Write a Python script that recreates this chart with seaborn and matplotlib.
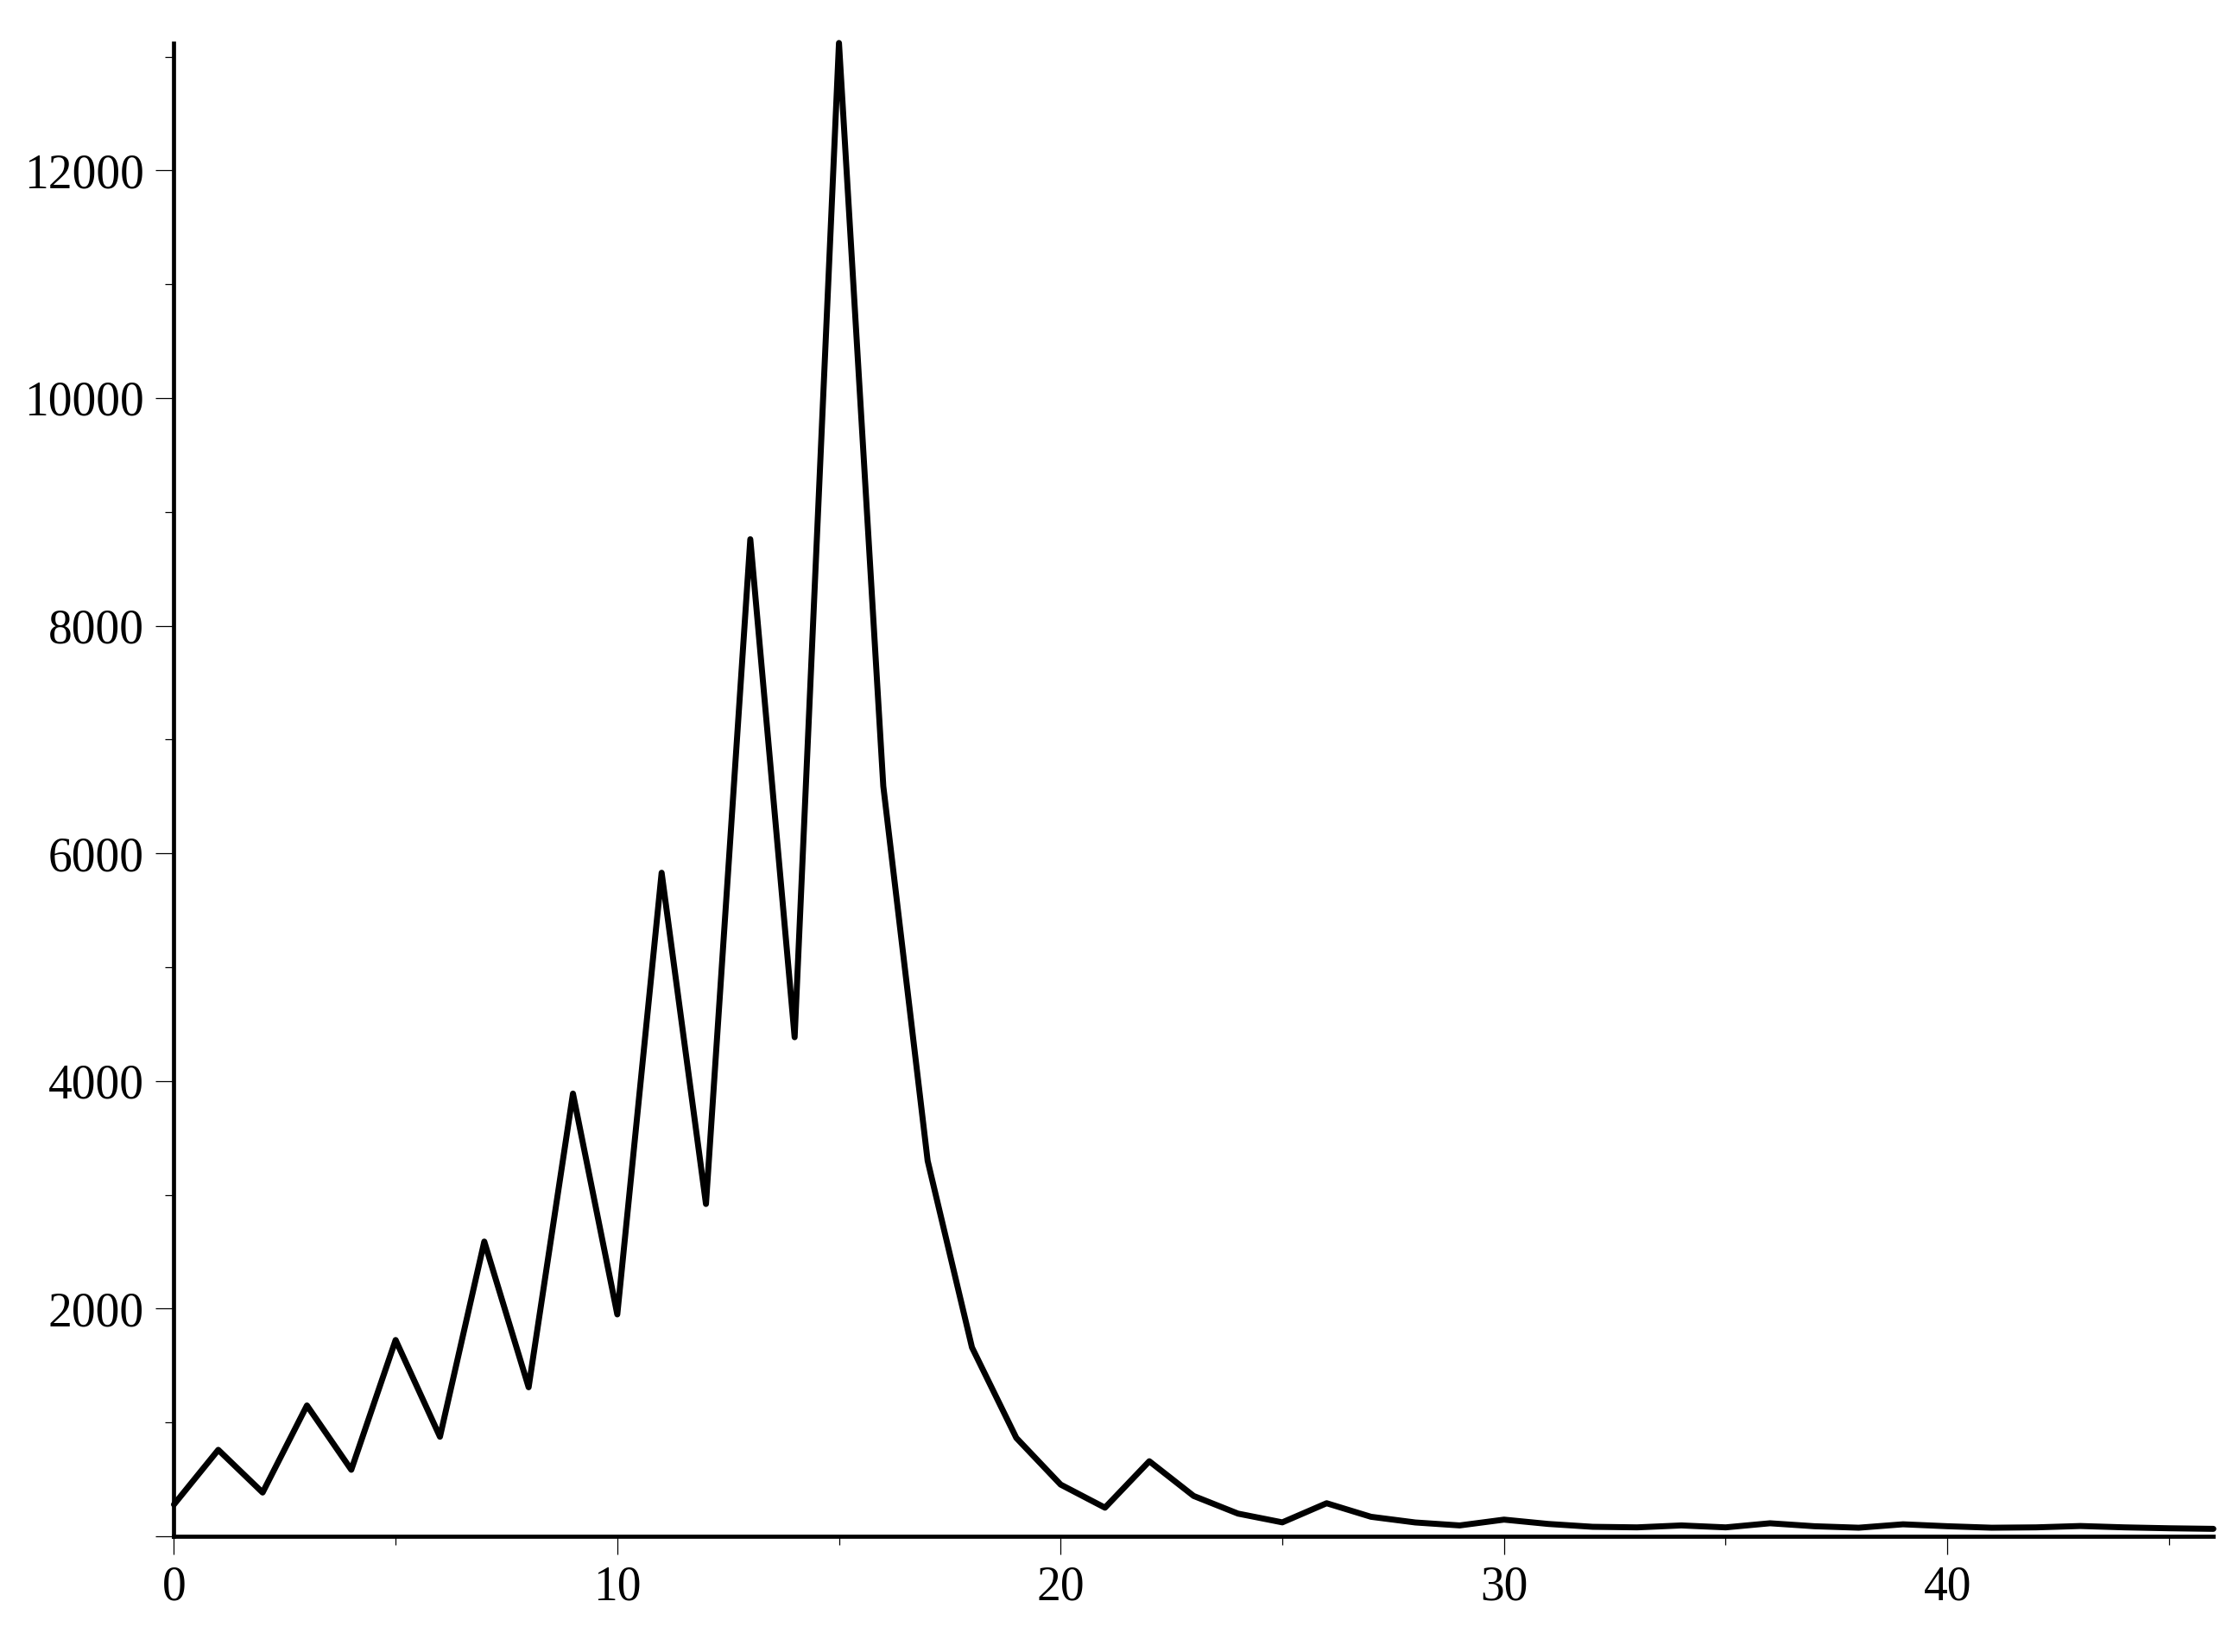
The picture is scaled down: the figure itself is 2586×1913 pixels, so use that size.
import matplotlib
matplotlib.use("Agg")
import matplotlib.pyplot as plt
from matplotlib.ticker import MultipleLocator, FuncFormatter
import seaborn as sns
import pandas as pd

# values, one per integer step 0..46
steps = list(range(47))
counts = [280, 760, 385, 1150, 585, 1725, 875, 2590, 1310, 3890,
          1950, 5830, 2920, 8760, 4385, 13120, 6590, 3300, 1660, 865,
          455, 252, 660, 355, 200, 123, 291, 172, 122, 96,
          147, 109, 84, 79, 96, 79, 115, 89, 76, 106,
          89, 76, 79, 91, 79, 71, 66]

df = pd.DataFrame({"step": steps, "count": counts})

sns.set_style("ticks")
plt.rcParams["font.family"] = ["Liberation Serif", "DejaVu Serif"]

fig = plt.figure(figsize=(25.86, 19.13), dpi=100)
ax = fig.add_axes([0.0779, 0.070, 0.9133, 0.904])

sns.lineplot(data=df, x="step", y="count", ax=ax, color="black",
             linewidth=5, clip_on=False)

ax.set_xlim(0, 46)
ax.set_ylim(0, max(counts))
ax.set_xlabel("")
ax.set_ylabel("")

ax.xaxis.set_major_locator(MultipleLocator(10))
ax.xaxis.set_minor_locator(MultipleLocator(5))
ax.yaxis.set_major_locator(MultipleLocator(2000))
ax.yaxis.set_minor_locator(MultipleLocator(1000))
# no label at the origin on the y axis
ax.yaxis.set_major_formatter(FuncFormatter(lambda v, p: "" if v == 0 else f"{v:.0f}"))

# axes look
for side in ["top", "right"]:
    ax.spines[side].set_visible(False)
for side in ["left", "bottom"]:
    ax.spines[side].set_linewidth(3.4)
    ax.spines[side].set_color("black")

ax.tick_params(which="major", length=15, width=0.9, color="black",
               labelsize=40, labelcolor="black")
ax.tick_params(which="minor", length=7, width=0.9, color="black")
ax.tick_params(axis="x", which="major", pad=9)
ax.tick_params(axis="y", which="major", pad=10)

fig.savefig("out.png", dpi=100, facecolor="white")
